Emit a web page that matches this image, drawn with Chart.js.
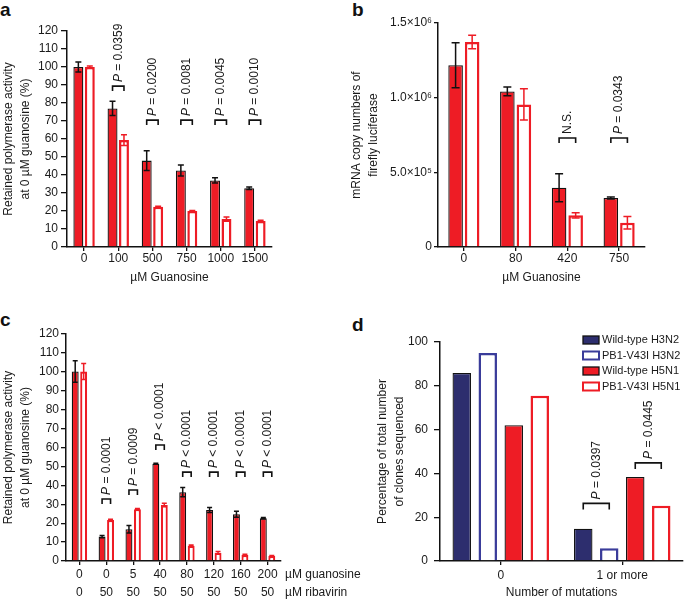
<!DOCTYPE html>
<html><head><meta charset="utf-8">
<script src="https://cdn.jsdelivr.net/npm/chart.js@4.4.1/dist/chart.umd.min.js"></script>
<style>
body{margin:0;background:#fff;width:685px;height:601px;position:relative;overflow:hidden;font-family:"Liberation Sans",Arial,sans-serif}
canvas{position:absolute}
.lbl{position:absolute;font-weight:bold;font-size:19px;line-height:1;color:#111}
</style></head><body>
<div class="lbl" style="left:0px;top:0px">a</div>
<div class="lbl" style="left:352px;top:0px">b</div>
<div class="lbl" style="left:0px;top:310px">c</div>
<div class="lbl" style="left:352px;top:315px">d</div>
<canvas id="ca" width="280" height="300" style="left:0;top:0"></canvas>
<canvas id="cb" width="310" height="300" style="left:340px;top:0"></canvas>
<canvas id="cc" width="380" height="301" style="left:0;top:300px"></canvas>
<canvas id="cd" width="345" height="301" style="left:340px;top:300px"></canvas>
<script>
// ---------- Panel a ----------
const catsA = ['0','100','500','750','1000','1500'];
const wtA = [100, 77, 48, 42.5, 37, 32.7];
const wtErrA = [2.8, 4, 5.5, 3, 1.5, 0.7];
const mutA = [100, 59.4, 22.3, 20, 15.5, 14.5];
const mutErrA = [0.5, 3, 0.3, 0.3, 1.2, 0.3];
const pCatA = [1, 2, 3, 4, 5];
const pTextA = ['P = 0.0359','P = 0.0200','P = 0.0081','P = 0.0045','P = 0.0010'];
const pLevelA = [89.4, 70.5, 70.5, 70.5, 70.5];

// ---------- Panel b ----------
const catsB = ['0','80','420','750'];
const wtB = [1.217e6, 1.042e6, 0.397e6, 0.328e6];
const wtErrB = [0.15e6, 0.03e6, 0.094e6, 0.006e6];
const mutB = [1.373e6, 0.955e6, 0.212e6, 0.163e6];
const mutErrB = [0.045e6, 0.105e6, 0.018e6, 0.042e6];
const pCatB = [2, 3];
const pTextB = ['N.S.','P = 0.0343'];
const pLevelB = [0.73e6, 0.73e6];

// ---------- Panel c ----------
const guanC = ['0','0','5','40','80','120','160','200'];
const ribaC = ['0','50','50','50','50','50','50','50'];
const wtC = [100.2, 12.9, 16.8, 51.4, 36.4, 27, 24.7, 22.6];
const wtErrC = [5.7, 0.6, 2, 0.3, 2.4, 1.3, 1.6, 0.4];
const mutC = [100.2, 21.7, 27.4, 29.6, 8.1, 4.4, 3.2, 2.6];
const mutErrC = [4.2, 0.4, 0.4, 0.9, 0.3, 0.6, 0.4, 0.3];
const pCatC = [1, 2, 3, 4, 5, 6, 7];
const pTextC = ['P = 0.0001','P = 0.0009','P < 0.0001','P < 0.0001','P < 0.0001','P < 0.0001','P < 0.0001'];
const pLevelC = [32.8, 37.5, 61.3, 47, 47, 47, 47];
const rowNamesC = ['µM guanosine','µM ribavirin'];

// ---------- Panel d ----------
const catsD = ['0','1 or more'];
const seriesNamesD = ['Wild-type H3N2','PB1-V43I H3N2','Wild-type H5N1','PB1-V43I H5N1'];
const wtH3D = [85.9, 14.7];
const mutH3D = [95.0, 5.8];
const wtH5D = [62.0, 38.4];
const mutH5D = [75.4, 25.2];
const pTextD = ['P = 0.0397','P = 0.0445'];
const pPairD = [[0,1],[2,3]];
const pLevelD = [26.3, 44.8];

const RED = '#ee1c25', INK = '#111111', NAVY = '#2d2e6e', NAVY2 = '#3a3c9a';
Chart.defaults.font.family = "'Liberation Sans', Arial, sans-serif";
Chart.defaults.font.size = 12;
Chart.defaults.color = '#1a1a1a';
Chart.defaults.animation = false;

function drawLabelRot(ctx, text, x, y) {
  ctx.save();
  ctx.translate(x, y);
  ctx.rotate(-Math.PI / 2);
  ctx.textAlign = 'left';
  ctx.textBaseline = 'middle';
  ctx.fillStyle = '#1a1a1a';
  let cx = 0;
  if (text.startsWith('P')) {
    ctx.font = "italic 12px 'Liberation Sans', Arial, sans-serif";
    ctx.fillText('P', 0, 0);
    cx = ctx.measureText('P').width;
    text = text.slice(1);
  }
  ctx.font = "12px 'Liberation Sans', Arial, sans-serif";
  ctx.fillText(text, cx, 0);
  ctx.restore();
}

function extras(o) {
  return {
    id: 'extras',
    afterDatasetsDraw(chart) {
      const ctx = chart.ctx, ys = chart.scales.y;
      ctx.save();
      // error bars
      (o.errors || []).forEach((errs, di) => {
        if (!errs) return;
        const meta = chart.getDatasetMeta(di);
        const vals = chart.data.datasets[di].data;
        ctx.strokeStyle = o.errColors[di];
        ctx.lineWidth = 1.5;
        meta.data.forEach((el, j) => {
          const x = el.x;
          const y1 = ys.getPixelForValue(vals[j] + errs[j]);
          const y2 = ys.getPixelForValue(vals[j] - errs[j]);
          const c = o.cap;
          ctx.beginPath();
          ctx.moveTo(x, y1); ctx.lineTo(x, y2);
          ctx.moveTo(x - c, y1); ctx.lineTo(x + c, y1);
          ctx.moveTo(x - c, y2); ctx.lineTo(x + c, y2);
          ctx.stroke();
        });
      });
      // brackets
      ctx.strokeStyle = INK;
      ctx.lineWidth = 1.6;
      (o.brackets || []).forEach(b => {
        const x1 = chart.getDatasetMeta(b.a).data[b.cat].x;
        const x2 = chart.getDatasetMeta(b.b).data[b.cat].x;
        const y = ys.getPixelForValue(b.level);
        ctx.beginPath();
        ctx.moveTo(x1, y + o.tick); ctx.lineTo(x1, y); ctx.lineTo(x2, y); ctx.lineTo(x2, y + o.tick);
        ctx.stroke();
        drawLabelRot(ctx, b.text, (x1 + x2) / 2, y - 4);
      });
      // extra row names (panel c)
      if (o.rowNames) {
        const xs = chart.scales.x;
        ctx.fillStyle = '#1a1a1a';
        ctx.font = "12px 'Liberation Sans', Arial, sans-serif";
        ctx.textAlign = 'left'; ctx.textBaseline = 'middle';
        o.rowNames.forEach((t, i) => ctx.fillText(t, chart.chartArea.right + 4, xs.top + 4 + 1 + 9 + i * 18));
      }
      // legend (panel d)
      if (o.legend) {
        ctx.textAlign = 'left'; ctx.textBaseline = 'middle';
        ctx.font = "11px 'Liberation Sans', Arial, sans-serif";
        chart.data.datasets.forEach((ds, i) => {
          const y = o.legend.y + i * o.legend.step;
          const x = o.legend.x;
          ctx.fillStyle = ds.backgroundColor;
          ctx.fillRect(x, y - 4, 16, 8);
          ctx.strokeStyle = ds.borderColor;
          ctx.lineWidth = ds.borderWidth > 2 ? 2 : 1.3;
          ctx.strokeRect(x, y - 4, 16, 8);
          ctx.fillStyle = '#1a1a1a';
          ctx.fillText(ds.label, x + 19, y);
        });
      }
      ctx.restore();
    }
  };
}

function filled(label, data, color) {
  return { label, data, backgroundColor: color, borderColor: INK, borderWidth: 1.3 };
}
function open(label, data, color, w) {
  return { label, data, backgroundColor: '#ffffff', borderColor: color, borderWidth: w || 2.5 };
}

function makeBar(id, labels, datasets, o) {
  return new Chart(document.getElementById(id), {
    type: 'bar',
    data: { labels, datasets },
    options: {
      responsive: false,
      animation: false,
      layout: { padding: o.pad },
      plugins: { legend: { display: false }, tooltip: { enabled: false } },
      datasets: { bar: { categoryPercentage: o.cat, barPercentage: o.bar } },
      scales: {
        x: {
          grid: { display: true, drawOnChartArea: false, offset: false, tickLength: 4, color: INK, lineWidth: 1.3 },
          border: { display: true, color: INK, width: 1.5 },
          ticks: { padding: o.xpad, font: { size: 12, lineHeight: o.xlh || 1.2 }, maxRotation: 0, autoSkip: false },
          title: { display: !!o.xtitle, text: o.xtitle, font: { size: 12, lineHeight: 1.2 }, padding: { top: 0, bottom: o.xtpb || 0 } },
          afterFit: s => { s.height = o.xh; }
        },
        y: {
          min: 0, max: o.ymax,
          ticks: { stepSize: o.step, padding: o.ypad, callback: o.fmt },
          grid: { display: true, drawOnChartArea: false, tickLength: o.ytl, color: INK, lineWidth: 1.3 },
          border: { display: true, color: INK, width: 1.5 },
          title: { display: true, text: o.ytitle, font: { size: 12, lineHeight: 1.35 }, padding: { top: o.ytpt, bottom: 0 } },
          afterFit: s => { s.width = o.yw; }
        }
      }
    },
    plugins: [extras(o)]
  });
}

const sup = {'0':'⁰','1':'¹','2':'²','3':'³','4':'⁴','5':'⁵','6':'⁶','7':'⁷','8':'⁸','9':'⁹'};
function sciFmt(v) {
  if (v === 0) return '0';
  const e = Math.floor(Math.log10(v) + 1e-9);
  const m = (v / Math.pow(10, e)).toFixed(1);
  return m + '×10' + String(e).split('').map(c => sup[c]).join('');
}

// Panel a
makeBar('ca', catsA, [filled('WT', wtA, RED), open('V43I', mutA, RED)], {
  pad: { top: 31, left: 0, right: 8, bottom: 0 },
  cat: 0.67, bar: 0.87, xh: 53, xpad: 0, xtitle: 'µM Guanosine', xtpb: 15,
  ymax: 120, step: 10, ypad: 3, ytl: 6, yw: 67, ytpt: 1,
  ytitle: ['Retained polymerase activity', 'at 0 µM guanosine (%)'],
  errors: [wtErrA, mutErrA], errColors: [INK, RED], cap: 3, tick: 5,
  brackets: pCatA.map((c, i) => ({ cat: c, a: 0, b: 1, level: pLevelA[i], text: pTextA[i] }))
});

// Panel b
makeBar('cb', catsB, [filled('WT', wtB, RED), open('V43I', mutB, RED)], {
  pad: { top: 23, left: 0, right: 5, bottom: 0 },
  cat: 0.64, bar: 0.88, xh: 53, xpad: 0, xtitle: 'µM Guanosine', xtpb: 15,
  ymax: 1.5e6, step: 0.5e6, ypad: 2, ytl: 4, yw: 98, ytpt: 9, fmt: sciFmt,
  ytitle: ['mRNA copy numbers of', 'firefly luciferase'],
  errors: [wtErrB, mutErrB], errColors: [INK, RED], cap: 4, tick: 5,
  brackets: pCatB.map((c, i) => ({ cat: c, a: 0, b: 1, level: pLevelB[i], text: pTextB[i] }))
});

// Panel c
const catsC = guanC.map((g, i) => [g, ribaC[i]]);
makeBar('cc', catsC, [filled('WT', wtC, RED), open('V43I', mutC, RED, 2.2)], {
  pad: { top: 34, left: 0, right: 99, bottom: 0 },
  cat: 0.63, bar: 0.82, xh: 40, xpad: 1, xlh: 1.5,
  ymax: 120, step: 10, ypad: 2, ytl: 5, yw: 66, ytpt: 1,
  ytitle: ['Retained polymerase activity', 'at 0 µM guanosine (%)'],
  errors: [wtErrC, mutErrC], errColors: [INK, RED], cap: 2.5, tick: 5,
  brackets: pCatC.map((c, i) => ({ cat: c, a: 0, b: 1, level: pLevelC[i], text: pTextC[i] })),
  rowNames: rowNamesC
});

// Panel d
makeBar('cd', catsD, [
  filled(seriesNamesD[0], wtH3D, NAVY),
  open(seriesNamesD[1], mutH3D, NAVY2),
  filled(seriesNamesD[2], wtH5D, RED),
  open(seriesNamesD[3], mutH5D, RED)
], {
  pad: { top: 42, left: 0, right: 2, bottom: 0 },
  cat: 0.856, bar: 0.71, xh: 40, xpad: 3, xtitle: 'Number of mutations', xtpb: 1,
  ymax: 100, step: 20, ypad: 6, ytl: 6, yw: 100, ytpt: 35,
  ytitle: ['Percentage of total number', 'of clones sequenced'],
  errors: [], errColors: [], cap: 0, tick: 6,
  brackets: pPairD.map((p, i) => ({ cat: 1, a: p[0], b: p[1], level: pLevelD[i], text: pTextD[i] })),
  legend: { x: 243, y: 40, step: 15.5 }
});
</script>
</body></html>
